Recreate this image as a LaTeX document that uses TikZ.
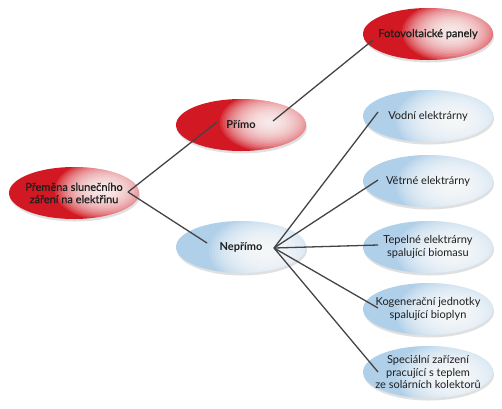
\documentclass[tikz,border=0pt]{standalone}
\usepackage{fontspec}
\setmainfont{Lato}
\newfontfamily\stredni{Lato}[FakeBold=0.8]
\usetikzlibrary{shapes.geometric,backgrounds}
\definecolor{cervena}{RGB}{210,24,34}
\definecolor{modra}{RGB}{176,207,233}
\definecolor{spojnice}{RGB}{68,68,68}
\definecolor{pismo}{RGB}{30,30,30}
\begin{document}
\begin{tikzpicture}[x=1pt, y=-1pt,
		every node/.style={font=\fontsize{11}{12.3}\selectfont, text=pismo, align=center},
		uzel/.style={ellipse, minimum width=130pt, minimum height=52pt, inner sep=0pt},
		tucne/.style={font=\fontsize{11}{12.3}\selectfont\bfseries},
		stredne/.style={font=\fontsize{11}{12.3}\selectfont\stredni},
		odlesk/.style={white, opacity=0.12},
		spoj/.style={draw=spojnice, line width=1.3pt}]
	\useasboundingbox (0,0) rectangle (502,408);
	
	% 1. koren a prvni uroven
	\node[uzel, stredne] (premena) at (74,193) {Přeměna slunečního\\záření na elektřinu};
	\node[uzel, tucne] (primo) at (241,125) {Přímo};
	\node[uzel, tucne] (neprimo) at (241,247) {Nepřímo};
	
	% 2. druha uroven
	\node[uzel, stredne] (foto) at (428,34) {Fotovoltaické panely};
	\node[uzel] (vodni) at (428,116) {Vodní elektrárny};
	\node[uzel] (vetrne) at (428,181) {Větrné elektrárny};
	\node[uzel] (tepelne) at (428,247) {Tepelné elektrárny\\spalující biomasu};
	\node[uzel] (kogen) at (428,309) {Kogenerační jednotky\\spalující bioplyn};
	\node[uzel] (special) at (428,372) {Speciální zařízení\\pracující s teplem\\ze solárních kolektorů};
	
	% 3. vyplne elips se stinem a odleskem (odlesk skladany z pruhlednych elips)
	\begin{scope}[on background layer]
		\foreach \n/\barva/\dx/\dy/\rx/\ry in {premena/cervena/31/3/50/30, primo/cervena/29/3/50/30, foto/cervena/24/2/50/30,
				neprimo/modra/26/-4/58/36, vodni/modra/26/-4/58/36, vetrne/modra/26/-4/58/36,
				tepelne/modra/26/-4/58/36, kogen/modra/26/-4/58/36, special/modra/26/-4/58/36} {
			\fill[black, opacity=0.12] ([xshift=1pt, yshift=-2.5pt]\n.center) ellipse (65pt and 26pt);
			\begin{scope}
				\clip (\n.center) ellipse (65pt and 26pt);
				\fill[\barva] (\n.center) ellipse (66pt and 27pt);
				\foreach \k in {1,...,20} {
					\pgfmathsetmacro\ra{\rx*\k/20}
					\pgfmathsetmacro\rb{\ry*\k/20}
					\fill[odlesk] ([xshift=\dx pt, yshift=\dy pt]\n.center) ellipse (\ra pt and \rb pt);
				}
			\end{scope}
		}
	\end{scope}
	
	% 4. spojnice
	\draw[spoj] ([xshift=54pt, yshift=1pt]premena.center) -- ([xshift=-24pt, yshift=3pt]primo.center);
	\draw[spoj] ([xshift=54pt, yshift=1pt]premena.center) -- ([xshift=-34pt, yshift=4pt]neprimo.center);
	\draw[spoj] ([xshift=32pt, yshift=4pt]primo.center) -- ([xshift=-55pt, yshift=-6pt]foto.center);
	\coordinate (rozbocka) at ([xshift=33pt, yshift=-1pt]neprimo.center);
	\foreach \cil/\dy in {vodni/4, vetrne/1, tepelne/2, kogen/1, special/0}
		\draw[spoj] (rozbocka) -- ([xshift=-50pt, yshift=\dy pt]\cil.center);
\end{tikzpicture}
\end{document}
